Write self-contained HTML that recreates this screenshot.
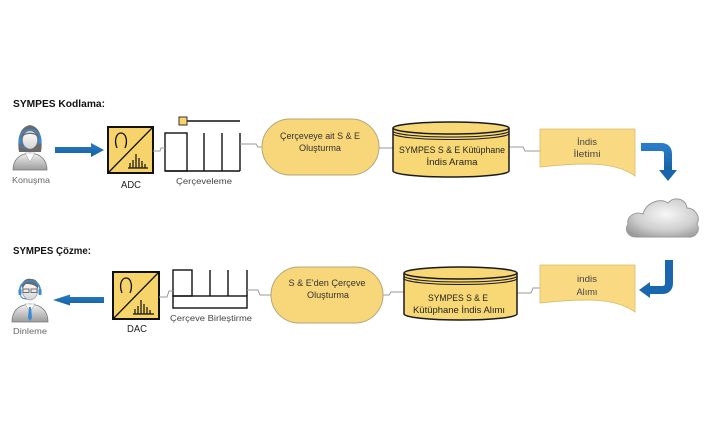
<!DOCTYPE html>
<html><head><meta charset="utf-8"><style>
html,body{margin:0;padding:0;background:#fff;}
svg{display:block;}
text{font-family:"Liberation Sans",sans-serif;}
</style></head><body>
<svg width="706" height="431" viewBox="0 0 706 431" xmlns="http://www.w3.org/2000/svg">
<defs>
<linearGradient id="pg" x1="0" y1="0" x2="0" y2="1"><stop offset="0" stop-color="#f4f4f4"/><stop offset="1" stop-color="#9c9c9c"/></linearGradient>
<linearGradient id="hg" x1="0" y1="0" x2="0" y2="1"><stop offset="0" stop-color="#ffffff"/><stop offset="1" stop-color="#d4d4d4"/></linearGradient>
<radialGradient id="cg" cx="0.55" cy="0.4" r="0.7"><stop offset="0" stop-color="#f7f7f7"/><stop offset="0.6" stop-color="#cfcfcf"/><stop offset="1" stop-color="#9a9a9a"/></radialGradient>
<linearGradient id="bg" x1="0" y1="0" x2="0" y2="1"><stop offset="0" stop-color="#2a7cc8"/><stop offset="1" stop-color="#15609f"/></linearGradient>
</defs>
<rect width="706" height="431" fill="#fff"/>

<!-- Titles -->
<text x="13" y="107" font-size="10.5" font-weight="bold" fill="#111" textLength="92" lengthAdjust="spacingAndGlyphs">SYMPES Kodlama:</text>
<text x="13" y="254" font-size="10.5" font-weight="bold" fill="#111" textLength="78" lengthAdjust="spacingAndGlyphs">SYMPES Çözme:</text>

<!-- Woman icon -->
<g>
<path d="M19,152 C17,140 19,127 30,125 C41,127 43,140 41,152 Z" fill="#6a6a6a"/>
<path d="M13,170 C13,160 19,154 30,153 C41,154 47,160 47,170 Z" fill="url(#pg)" stroke="#7a7a7a" stroke-width="0.8"/>
<path d="M25,153 L30,162 L35,153 Z" fill="#fff" stroke="#999" stroke-width="0.5"/>
<ellipse cx="30" cy="140" rx="7.5" ry="9" fill="url(#hg)" stroke="#888" stroke-width="0.6"/>
<path d="M22.5,137 C24,131 36,131 37.5,137 C35,133 25,133 22.5,137 Z" fill="#6a6a6a"/>
<path d="M20,141 C18,126 42,126 40,141" fill="none" stroke="#3a8ad6" stroke-width="1.6"/>
<rect x="18.5" y="138" width="3" height="6" rx="1" fill="#3a8ad6"/>
<rect x="38.5" y="138" width="3" height="6" rx="1" fill="#3a8ad6"/>
<path d="M20.5,144 C21,147 24,148 27,148" fill="none" stroke="#3a8ad6" stroke-width="1"/>
</g>
<text x="31" y="183" font-size="8.5" fill="#666" text-anchor="middle" textLength="38" lengthAdjust="spacingAndGlyphs">Konuşma</text>

<!-- Man icon -->
<g>
<path d="M12,322 C12,311 18,305 30,304 C42,305 48,311 48,322 Z" fill="url(#pg)" stroke="#7a7a7a" stroke-width="0.8"/>
<path d="M25,304 L30,312 L35,304 Z" fill="#fff" stroke="#999" stroke-width="0.5"/>
<path d="M29,307 L31,307 L32,318 L30,321 L28,318 Z" fill="#3a8ad6"/>
<ellipse cx="30" cy="291" rx="7.5" ry="9" fill="url(#hg)" stroke="#888" stroke-width="0.6"/>
<path d="M22,289 C21,280 27,278 31,279 C37,279 39,283 38,289 C36,285 30,284 26,284 C24,285 23,287 22,289 Z" fill="#6a6a6a"/>
<rect x="23" y="289" width="6" height="3.5" fill="none" stroke="#555" stroke-width="0.8"/>
<rect x="31" y="289" width="6" height="3.5" fill="none" stroke="#555" stroke-width="0.8"/>
<path d="M20,292 C18,277 42,277 40,292" fill="none" stroke="#3a8ad6" stroke-width="1.6"/>
<rect x="18.5" y="289" width="3" height="6" rx="1" fill="#3a8ad6"/>
<rect x="38.5" y="289" width="3" height="6" rx="1" fill="#3a8ad6"/>
<path d="M20.5,295 C21,298 24,299 27,299" fill="none" stroke="#3a8ad6" stroke-width="1"/>
</g>
<text x="30" y="334" font-size="8.5" fill="#666" text-anchor="middle" textLength="34" lengthAdjust="spacingAndGlyphs">Dinleme</text>

<!-- Blue straight arrows -->
<path d="M55,147 L91,147 L91,143 L104,150 L91,157 L91,153 L55,153 Z" fill="url(#bg)"/>
<path d="M104,297 L70,297 L70,294.5 L53,300 L70,305.5 L70,303 L104,303 Z" fill="url(#bg)"/>

<!-- ADC box -->
<g>
<rect x="108" y="127" width="45" height="46" fill="#f7d46b" stroke="#111" stroke-width="2"/>
<line x1="108" y1="173" x2="153" y2="127" stroke="#111" stroke-width="1.3"/>
<path d="M117,148 C114,141 116,133 121,133 C126,133 128,141 125,148" fill="none" stroke="#111" stroke-width="1.3"/>
<path d="M128,168 L148,168 M130,168 L130,163 M133,168 L133,160 M136,168 L136,154 M139,168 L139,158 M142,168 L142,161 M145,168 L145,164" stroke="#111" stroke-width="1.2"/>
</g>
<text x="131" y="188" font-size="10" fill="#222" text-anchor="middle" textLength="20" lengthAdjust="spacingAndGlyphs">ADC</text>

<!-- DAC box -->
<g>
<rect x="113" y="272" width="46" height="47" fill="#f7d46b" stroke="#111" stroke-width="2"/>
<line x1="113" y1="319" x2="159" y2="272" stroke="#111" stroke-width="1.3"/>
<path d="M122,293 C119,286 121,278 126,278 C131,278 133,286 130,293" fill="none" stroke="#111" stroke-width="1.3"/>
<path d="M133,314 L154,314 M135,314 L135,309 M138,314 L138,306 M141,314 L141,300 M144,314 L144,304 M147,314 L147,307 M150,314 L150,310" stroke="#111" stroke-width="1.2"/>
</g>
<text x="137" y="332" font-size="10" fill="#222" text-anchor="middle" textLength="20" lengthAdjust="spacingAndGlyphs">DAC</text>

<!-- Framing top -->
<g stroke="#111" stroke-width="1.4" fill="none">
<rect x="165" y="133" width="22" height="38"/>
<line x1="165" y1="171" x2="240" y2="171"/>
<line x1="204" y1="133" x2="204" y2="171"/>
<line x1="222" y1="133" x2="222" y2="171"/>
<line x1="240" y1="133" x2="240" y2="171"/>
<line x1="187" y1="121" x2="240" y2="121"/>
</g>
<rect x="179" y="117" width="8" height="8" fill="#f7d46b" stroke="#333" stroke-width="1"/>
<text x="204" y="184" font-size="8.5" fill="#444" text-anchor="middle" textLength="56" lengthAdjust="spacingAndGlyphs">Çerçeveleme</text>

<!-- Framing bottom -->
<g stroke="#111" stroke-width="1.4" fill="none">
<rect x="173" y="270" width="19" height="26"/>
<rect x="173" y="296" width="74" height="12"/>
<line x1="210" y1="270" x2="210" y2="296"/>
<line x1="228" y1="270" x2="228" y2="296"/>
<line x1="247" y1="270" x2="247" y2="296"/>
</g>
<text x="211" y="321" font-size="8.5" fill="#444" text-anchor="middle" textLength="82" lengthAdjust="spacingAndGlyphs">Çerçeve Birleştirme</text>

<!-- Connectors -->
<g stroke="#9a9a9a" stroke-width="1" fill="none">
<path d="M153,151 L160,151 L161,148 L165,148"/>
<path d="M240,144 L256,144 L258,147 L262,147"/>
<path d="M379,148 L393,148"/>
<path d="M509,147 L523,147 L525,151 L540,151"/>
<path d="M159,297 L167,297 L169,291 L173,291"/>
<path d="M247,290 L258,290 L260,295 L271,295"/>
<path d="M383,295 L389,295 L391,292 L404,292"/>
<path d="M517,293 L531,293 L533,288 L540,288"/>
</g>

<!-- Pills -->
<rect x="262" y="119" width="117" height="56" rx="28" fill="#f8d77a" stroke="#b5a57a" stroke-width="1"/>
<text x="320" y="139" font-size="9" fill="#333" text-anchor="middle" textLength="80" lengthAdjust="spacingAndGlyphs">Çerçeveye ait S &amp; E</text>
<text x="320" y="151" font-size="9" fill="#333" text-anchor="middle" textLength="42" lengthAdjust="spacingAndGlyphs">Oluşturma</text>

<rect x="271" y="267" width="112" height="56" rx="28" fill="#f8d77a" stroke="#b5a57a" stroke-width="1"/>
<text x="327" y="286" font-size="9" fill="#333" text-anchor="middle" textLength="77" lengthAdjust="spacingAndGlyphs">S &amp; E'den Çerçeve</text>
<text x="328" y="298" font-size="9" fill="#333" text-anchor="middle" textLength="42" lengthAdjust="spacingAndGlyphs">Oluşturma</text>

<!-- Cylinder 1 -->
<g stroke="#1a1a1a" stroke-width="1.5" fill="#f8d874">
<path d="M393,128 L393,171 A58,6 0 0 0 509,171 L509,128"/>
<ellipse cx="451" cy="128" rx="58" ry="6"/>
<path d="M393,131 A58,6 0 0 0 509,131" fill="none" stroke-width="1.1"/>
<path d="M393,133.5 A58,6 0 0 0 509,133.5" fill="none" stroke-width="1.1"/>
</g>
<text x="452" y="153" font-size="9" fill="#222" text-anchor="middle" textLength="106" lengthAdjust="spacingAndGlyphs">SYMPES S &amp; E Kütüphane</text>
<text x="452" y="165" font-size="9" fill="#222" text-anchor="middle" textLength="51" lengthAdjust="spacingAndGlyphs">İndis Arama</text>

<!-- Cylinder 2 -->
<g stroke="#1a1a1a" stroke-width="1.5" fill="#f8d874">
<path d="M404,273 L404,314 A56.5,6 0 0 0 517,314 L517,273"/>
<ellipse cx="460.5" cy="273" rx="56.5" ry="6"/>
<path d="M404,276 A56.5,6 0 0 0 517,276" fill="none" stroke-width="1.1"/>
<path d="M404,278.5 A56.5,6 0 0 0 517,278.5" fill="none" stroke-width="1.1"/>
</g>
<text x="458" y="301" font-size="9" fill="#222" text-anchor="middle" textLength="60" lengthAdjust="spacingAndGlyphs">SYMPES S &amp; E</text>
<text x="459" y="313" font-size="9" fill="#222" text-anchor="middle" textLength="92" lengthAdjust="spacingAndGlyphs">Kütüphane İndis Alımı</text>

<!-- Documents -->
<path d="M540,129 L635,129 L635,176 C618,164 595,161 540,167 Z" fill="#f9da82" stroke="#d8bc6a" stroke-width="0.8"/>
<text x="587" y="145" font-size="9" fill="#444" text-anchor="middle" textLength="20" lengthAdjust="spacingAndGlyphs">İndis</text>
<text x="587" y="157" font-size="9" fill="#444" text-anchor="middle" textLength="27" lengthAdjust="spacingAndGlyphs">İletimi</text>

<path d="M540,265 L635,265 L635,312 C618,300 595,297 540,303 Z" fill="#f9da82" stroke="#d8bc6a" stroke-width="0.8"/>
<text x="587" y="282" font-size="9" fill="#444" text-anchor="middle" textLength="20" lengthAdjust="spacingAndGlyphs">indis</text>
<text x="587" y="295" font-size="9" fill="#444" text-anchor="middle" textLength="21" lengthAdjust="spacingAndGlyphs">Alımı</text>

<!-- Bent arrows -->
<path d="M641,147 L661,147 Q668,147 668,154 L668,171" fill="none" stroke="url(#bg)" stroke-width="8"/>
<path d="M659,170 L677,170 L668,181 Z" fill="#1a66ad"/>
<path d="M669,260 L669,283 Q669,290 662,290 L649,290" fill="none" stroke="#1b67ae" stroke-width="8"/>
<path d="M650,282 L650,298 L639,290 Z" fill="#1b67ae"/>

<!-- Cloud -->
<path d="M636,237 C628,237 624,230 628,224 C626,216 636,211 643,214 C646,203 660,197 668,203 C673,196 686,198 687,208 C695,208 701,217 697,224 C701,231 695,238 688,237 Z" fill="url(#cg)" stroke="#9a9a9a" stroke-width="1"/>
</svg>
</body></html>
